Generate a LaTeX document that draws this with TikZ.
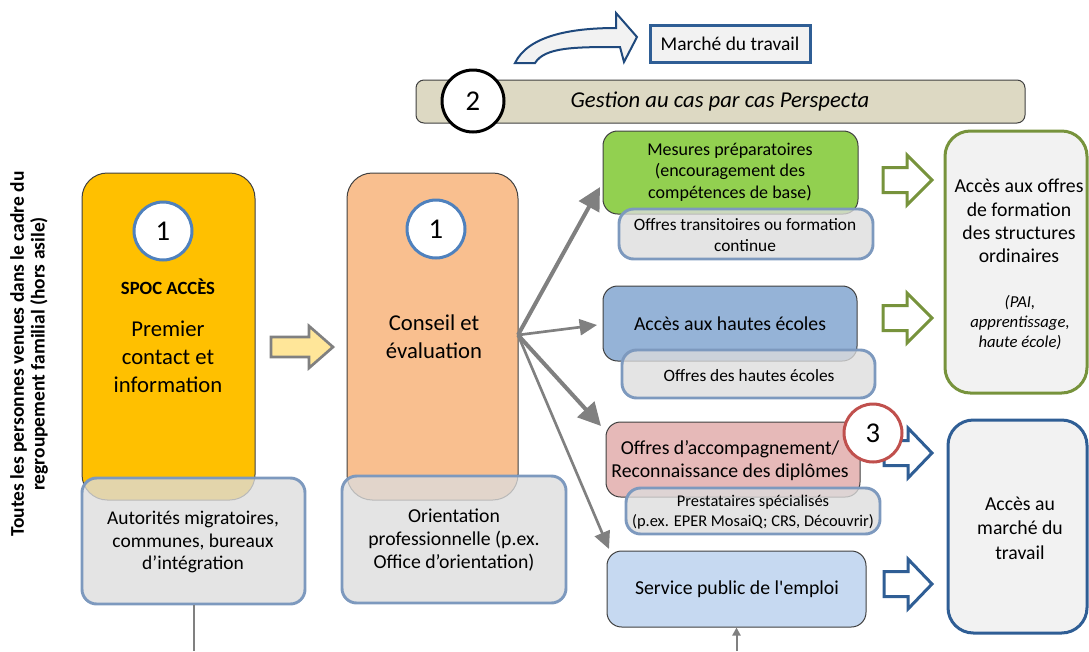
\documentclass[tikz,border=0pt]{standalone}
\usepackage{fontspec}
\setmainfont{Carlito}
\newfontfamily\nomapfont{Carlito}[Ligatures=TeXOff]
\usetikzlibrary{arrows.meta,fit,calc}
\definecolor{edgegray}{HTML}{404040}
\definecolor{spocyellow}{HTML}{FFC000}
\definecolor{peach}{HTML}{F9BF8F}
\definecolor{greenfill}{HTML}{92D050}
\definecolor{bluefill}{HTML}{95B3D7}
\definecolor{pinkfill}{HTML}{E6B9B8}
\definecolor{lightblue}{HTML}{C6D9F1}
\definecolor{subfill}{HTML}{DCDCDC}
\definecolor{subedge}{HTML}{7D99BE}
\definecolor{tan}{HTML}{DDD9C3}
\definecolor{olivegreen}{HTML}{77933C}
\definecolor{darkblue}{HTML}{2F5E95}
\definecolor{navy}{HTML}{1F497D}
\definecolor{circblue}{HTML}{4F81BD}
\definecolor{circred}{HTML}{C0504D}
\definecolor{arrgray}{HTML}{808080}
\definecolor{paleyellow}{HTML}{FFE699}
\definecolor{offwhite}{HTML}{F2F2F2}
\begin{document}
\begin{tikzpicture}[x=0.75pt,y=-0.75pt,
  mainbox/.style={draw=edgegray, line width=0.75pt, inner sep=0pt, rounded corners=#1},
  mainbox/.default=11pt,
  subbox/.style={draw=subedge, line width=2.2pt, fill=subfill, fill opacity=0.78, inner sep=0pt, rounded corners=11pt},
  bigbox/.style={line width=2.25pt, fill=offwhite, inner sep=0pt, rounded corners=19pt},
  circ/.style={circle, fill=white, line width=2.25pt, minimum size=43.5pt, inner sep=0pt, font=\fontsize{21.5}{25}\selectfont},
  txt/.style={align=center, inner sep=0pt},
  fanthick/.style={draw=arrgray, line width=3pt, -{Triangle[length=17pt,width=17pt]}},
  fanthin/.style={draw=arrgray, line width=2pt, -{Triangle[length=13pt,width=12pt]}},
  hollow/.style={line width=2.25pt, fill=white, line join=miter}
]
\useasboundingbox (0,0) rectangle (1089,651);

% top: case management bar
\node[mainbox=6pt, fill=tan, fit={(416,80) (1025,123)}] (bar) {};
\node[txt, font=\itshape\fontsize{17}{20}\selectfont] (bartxt) at (720,101) {Gestion au cas par cas Perspecta};
\node[circ, draw=black, minimum size=46.5pt] (c2) at (473,101) {2};

% curved arrow and labour market box
\draw[fill=offwhite, draw=navy, line width=1.5pt, line join=miter]
  (515,63) .. controls (528,36) and (570,28) .. (616,28) -- (616,13) -- (637,37) -- (624,62)
  -- (620,47) .. controls (575,47) and (545,47) .. (535,63) -- cycle;
\node[draw=darkblue, line width=2.25pt, fill=offwhite, inner sep=0pt, fit={(650,25) (810,62)}] (marche) {};
\node[txt, font=\fontsize{14.6}{17}\selectfont] (marchetxt) at (730,43.5) {Marché du travail};

% stage 1 boxes
\node[mainbox=19pt, fill=spocyellow, fit={(82,173) (255,500)}] (spoc) {};
\node[mainbox=19pt, fill=peach, fit={(347,173) (518,500)}] (conseil) {};

% yellow block arrow
\draw[fill=paleyellow, draw=arrgray, line width=2pt, line join=miter, shift={(271,347)}]
  (0,-10) -- (38,-10) -- (38,-21) -- (62,0) -- (38,21) -- (38,10) -- (0,10) -- cycle;

% middle boxes
\node[mainbox, fill=greenfill, fit={(603,131) (858,214)}] (prep) {};
\node[mainbox, fill=bluefill, fit={(603,286) (857,361)}] (he) {};
\node[mainbox, fill=pinkfill, fit={(606,422) (860,497)}] (accomp) {};
\node[mainbox, fill=lightblue, fit={(607,551) (866,627)}] (service) {};

% grey sub boxes
\node[subbox, fit={(82,478) (305,604)}] (autor) {};
\node[subbox, fit={(342,476) (566,603)}] (orient) {};
\node[subbox, fit={(619,209) (873,259)}] (transit) {};
\node[subbox, fit={(622,350) (875,398)}] (offhe) {};
\node[subbox, fit={(626,488) (880,534)}] (presta) {};

% fan of arrows
\coordinate (fan) at (518,335);
\coordinate (tipG) at (600,187);
\coordinate (tipB) at (597,325);
\coordinate (tipR) at (601,426);
\coordinate (tipS) at (609,549);
\draw[fanthick] (fan) -- (tipG);
\draw[fanthin] (fan) -- (tipB);
\draw[fanthick] (fan) -- (tipR);
\draw[fanthin] (fan) -- (tipS);

% hollow arrows
\foreach \yy in {180,318}{
  \draw[hollow, draw=olivegreen, shift={(883,\yy)}]
    (0,-12.5) -- (24,-12.5) -- (24,-25) -- (49,0) -- (24,25) -- (24,12.5) -- (0,12.5) -- cycle;
}
\foreach \yy in {453,584}{
  \draw[hollow, draw=darkblue, shift={(884,\yy)}]
    (0,-12.5) -- (24,-12.5) -- (24,-25) -- (48,0) -- (24,25) -- (24,12.5) -- (0,12.5) -- cycle;
}
\node[circ, draw=circred, minimum size=43.5pt] (c3) at (873,433) {3};

% right boxes
\node[bigbox, draw=olivegreen, fit={(945,131) (1087,393)}] (formation) {};
\node[bigbox, draw=darkblue, fit={(948,420) (1087,633)}] (marcheacc) {};

% circles 1
\node[circ, draw=circblue] (c1a) at (163,231) {1};
\node[circ, draw=circblue] (c1b) at (436,229) {1};

% texts
\node[txt, font=\bfseries\fontsize{14}{17}\selectfont] (spoct) at (168,287) {SPOC ACCÈS};
\node[txt, font=\fontsize{17}{21}\selectfont] (premier) at (168,357) {Premier\\contact et\\information};
\node[txt, font=\fontsize{17}{21}\selectfont] (conseilt) at (434,337) {Conseil et\\évaluation};
\node[txt, font=\fontsize{14.6}{17}\selectfont] (autort) at (193,542) {Autorités migratoires,\\communes, bureaux\\d’intégration};
\node[txt, font=\fontsize{14.8}{17.5}\selectfont] (orientt) at (454,540) {Orientation\\professionnelle (p.ex.\\Office d’orientation)};
\node[txt, font=\fontsize{13.5}{16.3}\selectfont] (prept) at (730,172) {Mesures préparatoires\\(encouragement des\\compétences de base)};
\node[txt, font=\fontsize{13}{15.75}\selectfont] (transitt) at (745,235.5) {Offres transitoires ou formation\\continue};
\node[txt, font=\fontsize{14.8}{17.5}\selectfont] (het) at (730,324) {Accès aux hautes écoles};
\node[txt, font=\fontsize{13}{15.75}\selectfont] (offhet) at (749,376) {Offres des hautes écoles};
\node[txt, font=\fontsize{14.8}{17.25}\selectfont] (accompt) at (730,461) {Offres d’accompagnement/\\Reconnaissance des diplômes};
\node[txt, font=\fontsize{12.3}{15}\selectfont] (prestat) at (753,512) {Prestataires spécialisés\\(p.ex. EPER MosaiQ; CRS, Découvrir)};
\node[txt, font=\nomapfont\fontsize{14.8}{17.5}\selectfont] (servicet) at (737,589) {Service public de l'emploi};
\node[txt, font=\fontsize{14.8}{17.5}\selectfont] (formt) at (1019,221) {Accès aux offres\\de formation\\des structures\\ordinaires};
\node[txt, font=\itshape\fontsize{12.5}{15}\selectfont] (format) at (1020,323) {(PAI,\\apprentissage,\\haute école)};
\node[txt, font=\fontsize{14.8}{18.5}\selectfont] (marcheacct) at (1020,528) {Accès au\\marché du\\travail};

% side label
\node[txt, rotate=90, font=\bfseries\fontsize{14.6}{15.5}\selectfont] (side) at (29,354) {Toutes les personnes venues dans le cadre du\\regroupement familial (hors asile)};

% bottom connectors
\coordinate (autoEnd) at (193.5,651);
\draw[arrgray, line width=1.5pt] (autor.south) -- (autoEnd);
\coordinate (servBelow) at (736.5,651);
\draw[arrgray, line width=1.5pt, -{Triangle[length=6pt,width=6pt]}] (servBelow) -- (service.south -| servBelow);
\end{tikzpicture}
\end{document}
